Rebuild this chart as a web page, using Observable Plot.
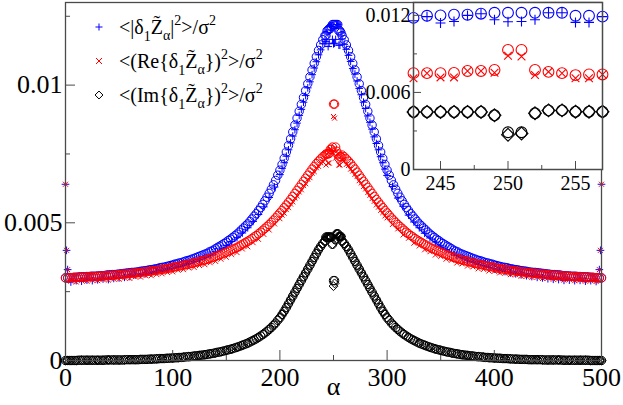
<!DOCTYPE html>
<html><head><meta charset="utf-8">
<script src="https://cdn.jsdelivr.net/npm/d3@7"></script>
<script src="https://cdn.jsdelivr.net/npm/@observablehq/plot@0.6"></script>
<style>
html,body{margin:0;padding:0;background:#fff;}
#wrap{position:relative;width:623px;height:405px;font-family:'Liberation Serif';}
#wrap svg{display:block;}
#insetBox{position:absolute;left:365px;top:0;}
</style></head><body><div id="wrap"></div>
<script>
// alpha positions of the circle series
const alphaO = [0,2,4,6,8,10,12,14,16,18,20,22,24,26,28,30,32,34,36,38,40,42,44,46,48,50,52,54,56,58,60,62,64,66,68,70,72,74,76,78,80,82,84,86,88,90,92,94,96,98,
100,102,104,106,108,110,112,114,116,118,120,122,124,126,128,130,132,134,136,138,140,142,144,146,148,150,152,154,156,158,160,162,164,166,168,170,172,174,176,178,180,182,184,186,188,190,192,194,196,198,
200,202,204,206,208,210,212,214,216,218,220,222,224,226,228,230,232,234,236,238,240,242,
243,244,245,246,247,248,249,250,251,252,253,254,255,256,257,
258,260,262,264,266,268,270,272,274,276,278,280,282,284,286,288,290,292,294,296,298,300,
302,304,306,308,310,312,314,316,318,320,322,324,326,328,330,332,334,336,338,340,342,344,346,348,350,352,354,356,358,360,362,364,366,368,370,372,374,376,378,380,382,384,386,388,390,392,394,396,398,
400,402,404,406,408,410,412,414,416,418,420,422,424,426,428,430,432,434,436,438,440,442,444,446,448,450,452,454,456,458,460,462,464,466,468,470,472,474,476,478,480,482,484,486,488,490,492,494,496,498,500];

// <|d1 Z|^2>/sigma^2, circles
const blueO = [
0.00300,0.00300,0.00301,0.00301,0.00302,0.00302,0.00303,0.00304,0.00304,0.00304,
0.00305,0.00305,0.00306,0.00306,0.00306,0.00307,0.00307,0.00308,0.00308,0.00310,
0.00311,0.00311,0.00312,0.00312,0.00313,0.00314,0.00315,0.00316,0.00317,0.00318,
0.00319,0.00320,0.00320,0.00321,0.00322,0.00324,0.00325,0.00326,0.00327,0.00329,
0.00330,0.00331,0.00333,0.00334,0.00337,0.00338,0.00339,0.00341,0.00343,0.00345,
0.00347,0.00350,0.00351,0.00354,0.00355,0.00358,0.00361,0.00363,0.00365,0.00368,
0.00371,0.00374,0.00377,0.00380,0.00383,0.00386,0.00389,0.00394,0.00397,0.00401,
0.00406,0.00411,0.00415,0.00420,0.00425,0.00430,0.00436,0.00441,0.00447,0.00453,
0.00459,0.00466,0.00474,0.00481,0.00489,0.00496,0.00505,0.00514,0.00524,0.00533,
0.00544,0.00555,0.00567,0.00580,0.00593,0.00607,0.00622,0.00638,0.00654,0.00673,
0.00691,0.00712,0.00734,0.00757,0.00781,0.00805,0.00830,0.00855,0.00880,0.00905,
0.00930,0.00955,0.00980,0.01005,0.01030,0.01055,0.01079,0.01103,0.01126,0.01146,
0.01165,0.01180,
0.01180,0.01197,0.01200,0.01205,0.01205,0.01213,0.01220,0.01220,0.01220,0.01220,0.01220,0.01220,0.01197,0.01197,0.01190,
0.01180,0.01165,
0.01146,0.01126,0.01103,0.01079,0.01055,0.01030,0.01005,0.00980,0.00955,0.00930,
0.00905,0.00880,0.00855,0.00830,0.00805,0.00781,0.00757,0.00734,0.00712,0.00691,
0.00673,0.00654,0.00638,0.00622,0.00607,0.00593,0.00580,0.00567,0.00555,0.00544,
0.00533,0.00524,0.00514,0.00505,0.00496,0.00489,0.00481,0.00474,0.00466,0.00459,
0.00453,0.00447,0.00441,0.00436,0.00430,0.00425,0.00420,0.00415,0.00411,0.00406,
0.00401,0.00397,0.00394,0.00389,0.00386,0.00383,0.00380,0.00377,0.00374,0.00371,
0.00368,0.00365,0.00363,0.00361,0.00358,0.00355,0.00354,0.00351,0.00350,0.00347,
0.00345,0.00343,0.00341,0.00339,0.00338,0.00337,0.00334,0.00333,0.00331,0.00330,
0.00329,0.00327,0.00326,0.00325,0.00324,0.00322,0.00321,0.00320,0.00320,0.00319,
0.00318,0.00317,0.00316,0.00315,0.00314,0.00313,0.00312,0.00312,0.00311,0.00311,
0.00310,0.00308,0.00308,0.00307,0.00307,0.00306,0.00306,0.00306,0.00305,0.00305,
0.00304,0.00304,0.00304,0.00303,0.00302,0.00302,0.00301,0.00301,0.00300,0.00300];

// <(Re{d1 Z})^2>/sigma^2, circles
const redO = [
0.00300,0.00300,0.00301,0.00301,0.00302,0.00302,0.00302,0.00303,0.00303,0.00303,
0.00304,0.00304,0.00305,0.00305,0.00305,0.00306,0.00306,0.00307,0.00307,0.00308,
0.00309,0.00309,0.00310,0.00310,0.00311,0.00312,0.00313,0.00314,0.00314,0.00315,
0.00316,0.00317,0.00317,0.00318,0.00319,0.00320,0.00321,0.00322,0.00323,0.00324,
0.00325,0.00326,0.00327,0.00328,0.00330,0.00331,0.00332,0.00333,0.00335,0.00336,
0.00338,0.00340,0.00341,0.00343,0.00344,0.00346,0.00348,0.00349,0.00351,0.00353,
0.00355,0.00357,0.00359,0.00361,0.00363,0.00365,0.00367,0.00370,0.00372,0.00375,
0.00378,0.00381,0.00384,0.00387,0.00390,0.00393,0.00397,0.00400,0.00404,0.00407,
0.00411,0.00415,0.00420,0.00424,0.00429,0.00433,0.00438,0.00443,0.00449,0.00454,
0.00460,0.00466,0.00473,0.00480,0.00487,0.00494,0.00502,0.00510,0.00518,0.00527,
0.00536,0.00545,0.00555,0.00565,0.00575,0.00585,0.00596,0.00607,0.00618,0.00629,
0.00640,0.00651,0.00662,0.00673,0.00684,0.00695,0.00705,0.00715,0.00724,0.00732,
0.00740,0.00746,
0.00750,0.00750,0.00750,0.00752,0.00767,0.00767,0.00775,0.00931,0.00931,0.00775,0.00760,0.00750,0.00735,0.00740,0.00740,
0.00746,0.00740,
0.00732,0.00724,0.00715,0.00705,0.00695,0.00684,0.00673,0.00662,0.00651,0.00640,
0.00629,0.00618,0.00607,0.00596,0.00585,0.00575,0.00565,0.00555,0.00545,0.00536,
0.00527,0.00518,0.00510,0.00502,0.00494,0.00487,0.00480,0.00473,0.00466,0.00460,
0.00454,0.00449,0.00443,0.00438,0.00433,0.00429,0.00424,0.00420,0.00415,0.00411,
0.00407,0.00404,0.00400,0.00397,0.00393,0.00390,0.00387,0.00384,0.00381,0.00378,
0.00375,0.00372,0.00370,0.00367,0.00365,0.00363,0.00361,0.00359,0.00357,0.00355,
0.00353,0.00351,0.00349,0.00348,0.00346,0.00344,0.00343,0.00341,0.00340,0.00338,
0.00336,0.00335,0.00333,0.00332,0.00331,0.00330,0.00328,0.00327,0.00326,0.00325,
0.00324,0.00323,0.00322,0.00321,0.00320,0.00319,0.00318,0.00317,0.00317,0.00316,
0.00315,0.00314,0.00314,0.00313,0.00312,0.00311,0.00310,0.00310,0.00309,0.00309,
0.00308,0.00307,0.00307,0.00306,0.00306,0.00305,0.00305,0.00305,0.00304,0.00304,
0.00303,0.00303,0.00303,0.00302,0.00302,0.00302,0.00301,0.00301,0.00300,0.00300];

// <(Im{d1 Z})^2>/sigma^2, circles
const blackO = [
0,0,0,0,0,0,0.00001,0.00001,0.00001,0.00001,
0.00001,0.00001,0.00001,0.00001,0.00001,0.00001,0.00001,0.00001,0.00001,0.00002,
0.00002,0.00002,0.00002,0.00002,0.00002,0.00002,0.00002,0.00002,0.00003,0.00003,
0.00003,0.00003,0.00003,0.00003,0.00003,0.00004,0.00004,0.00004,0.00004,0.00005,
0.00005,0.00005,0.00006,0.00006,0.00007,0.00007,0.00007,0.00008,0.00008,0.00009,
0.00009,0.00010,0.00010,0.00011,0.00011,0.00012,0.00013,0.00014,0.00014,0.00015,
0.00016,0.00017,0.00018,0.00019,0.00020,0.00021,0.00022,0.00024,0.00025,0.00026,
0.00028,0.00030,0.00031,0.00033,0.00035,0.00037,0.00039,0.00041,0.00043,0.00046,
0.00048,0.00051,0.00054,0.00057,0.00060,0.00063,0.00067,0.00071,0.00075,0.00079,
0.00084,0.00089,0.00094,0.00100,0.00106,0.00113,0.00120,0.00128,0.00136,0.00146,
0.00155,0.00167,0.00179,0.00192,0.00206,0.00220,0.00234,0.00248,0.00262,0.00276,
0.00290,0.00304,0.00318,0.00332,0.00346,0.00360,0.00374,0.00388,0.00402,0.00414,
0.00425,0.00434,
0.00448,0.00448,0.00448,0.00448,0.00448,0.00448,0.00422,0.00290,0.00290,0.00438,0.00460,0.00460,0.00450,0.00450,0.00450,
0.00434,0.00425,
0.00414,0.00402,0.00388,0.00374,0.00360,0.00346,0.00332,0.00318,0.00304,0.00290,
0.00276,0.00262,0.00248,0.00234,0.00220,0.00206,0.00192,0.00179,0.00167,0.00155,
0.00146,0.00136,0.00128,0.00120,0.00113,0.00106,0.00100,0.00094,0.00089,0.00084,
0.00079,0.00075,0.00071,0.00067,0.00063,0.00060,0.00057,0.00054,0.00051,0.00048,
0.00046,0.00043,0.00041,0.00039,0.00037,0.00035,0.00033,0.00031,0.00030,0.00028,
0.00026,0.00025,0.00024,0.00022,0.00021,0.00020,0.00019,0.00018,0.00017,0.00016,
0.00015,0.00014,0.00014,0.00013,0.00012,0.00011,0.00011,0.00010,0.00010,0.00009,
0.00009,0.00008,0.00008,0.00007,0.00007,0.00007,0.00006,0.00006,0.00005,0.00005,
0.00005,0.00004,0.00004,0.00004,0.00004,0.00003,0.00003,0.00003,0.00003,0.00003,
0.00003,0.00003,0.00002,0.00002,0.00002,0.00002,0.00002,0.00002,0.00002,0.00002,
0.00002,0.00001,0.00001,0.00001,0.00001,0.00001,0.00001,0.00001,0.00001,0.00001,
0.00001,0.00001,0.00001,0.00001,0,0,0,0,0,0];

// alpha positions of the plus / times / diamond series
const alphaS = [0,1,2,5,10,15,20,25,30,35,40,45,50,55,60,65,70,75,80,85,90,95,100,105,110,115,120,125,130,135,140,145,150,155,160,165,170,175,180,185,190,195,
200,202,204,206,208,210,212,214,216,218,220,222,224,226,228,230,232,234,236,238,240,242,
243,244,245,246,247,248,249,250,251,252,253,254,255,256,257,
258,260,262,264,266,268,270,272,274,276,278,280,282,284,286,288,290,292,294,296,298,300,
305,310,315,320,325,330,335,340,345,350,355,360,365,370,375,380,385,390,395,400,405,410,415,420,425,430,435,440,445,450,455,460,465,470,475,480,485,490,495,498,499,500];

const bluePlus = [0.00640,0.00400,0.00330,0.00285,0.00290,0.00288,0.00292,0.00290,0.00293,0.00296,0.00294,0.00298,0.00300,0.00302,0.00305,0.00310,0.00312,0.00315,0.00318,0.00323,0.00327,0.00333,0.00336,0.00342,0.00347,0.00352,0.00360,0.00366,0.00375,0.00383,0.00395,0.00405,0.00418,0.00432,0.00446,0.00463,0.00482,0.00505,0.00530,0.00558,0.00592,0.00630,
0.00675,0.00698,0.00718,0.00742,0.00765,0.00790,0.00815,0.00838,0.00862,0.00890,0.00912,0.00938,0.00962,0.00990,0.01012,0.01038,0.01062,0.01085,0.01110,0.01128,0.01150,0.01165,
0.01158,0.01190,0.01140,0.01152,0.01200,0.01213,0.01166,0.01150,0.01152,0.01166,0.01220,0.01220,0.01145,0.01145,0.01190,
0.01168,0.01148,0.01130,0.01108,0.01086,0.01060,0.01040,0.01015,0.00988,0.00965,0.00938,0.00915,0.00888,0.00865,0.00840,0.00812,0.00788,0.00765,0.00740,0.00718,0.00695,0.00672,
0.00632,0.00590,0.00560,0.00528,0.00503,0.00482,0.00462,0.00445,0.00430,0.00416,0.00403,0.00393,0.00382,0.00373,0.00364,0.00357,0.00349,0.00344,0.00337,0.00332,0.00327,0.00323,0.00318,0.00315,0.00311,0.00308,0.00305,0.00302,0.00300,0.00297,0.00295,0.00294,0.00291,0.00292,0.00290,0.00291,0.00288,0.00290,0.00287,0.00330,0.00400,0.00640];

const redX = [0.00640,0.00400,0.00330,0.00288,0.00285,0.00290,0.00288,0.00292,0.00290,0.00294,0.00292,0.00296,0.00295,0.00300,0.00298,0.00304,0.00303,0.00308,0.00308,0.00313,0.00315,0.00320,0.00322,0.00328,0.00330,0.00336,0.00338,0.00345,0.00348,0.00355,0.00360,0.00368,0.00375,0.00385,0.00392,0.00405,0.00413,0.00428,0.00440,0.00458,0.00474,0.00496,
0.00515,0.00528,0.00535,0.00548,0.00555,0.00568,0.00576,0.00590,0.00598,0.00612,0.00620,0.00635,0.00642,0.00658,0.00664,0.00680,0.00686,0.00700,0.00705,0.00718,0.00722,0.00733,
0.00710,0.00750,0.00717,0.00717,0.00767,0.00767,0.00753,0.00886,0.00880,0.00735,0.00760,0.00750,0.00710,0.00710,0.00740,
0.00730,0.00725,0.00712,0.00708,0.00695,0.00688,0.00676,0.00668,0.00653,0.00645,0.00632,0.00623,0.00610,0.00600,0.00588,0.00578,0.00565,0.00557,0.00545,0.00537,0.00525,0.00518,
0.00494,0.00478,0.00456,0.00444,0.00426,0.00416,0.00402,0.00395,0.00383,0.00378,0.00368,0.00364,0.00354,0.00351,0.00343,0.00340,0.00333,0.00331,0.00325,0.00324,0.00318,0.00317,0.00312,0.00311,0.00306,0.00306,0.00302,0.00302,0.00298,0.00299,0.00295,0.00296,0.00292,0.00294,0.00290,0.00292,0.00288,0.00290,0.00287,0.00330,0.00400,0.00640];

const blackD = [0,0,0,0,0,0.00001,0.00001,0.00001,0.00001,0.00001,0.00002,0.00002,0.00002,0.00002,0.00003,0.00003,0.00004,0.00004,0.00005,0.00006,0.00007,0.00008,0.00009,0.00010,0.00012,0.00014,0.00016,0.00018,0.00021,0.00024,0.00028,0.00032,0.00037,0.00042,0.00048,0.00055,0.00063,0.00073,0.00084,0.00097,0.00113,0.00132,
0.00155,0.00167,0.00179,0.00192,0.00206,0.00220,0.00234,0.00248,0.00262,0.00276,0.00290,0.00304,0.00318,0.00332,0.00346,0.00360,0.00374,0.00388,0.00402,0.00414,0.00425,0.00434,
0.00448,0.00448,0.00448,0.00448,0.00448,0.00448,0.00422,0.00270,0.00280,0.00438,0.00460,0.00460,0.00450,0.00450,0.00450,
0.00434,0.00425,0.00414,0.00402,0.00388,0.00374,0.00360,0.00346,0.00332,0.00318,0.00304,0.00290,0.00276,0.00262,0.00248,0.00234,0.00220,0.00206,0.00192,0.00179,0.00167,0.00155,
0.00132,0.00113,0.00097,0.00084,0.00073,0.00063,0.00055,0.00048,0.00042,0.00037,0.00032,0.00028,0.00024,0.00021,0.00018,0.00016,0.00014,0.00012,0.00010,0.00009,0.00008,0.00007,0.00006,0.00005,0.00004,0.00004,0.00003,0.00003,0.00002,0.00002,0.00002,0.00002,0.00001,0.00001,0.00001,0.00001,0.00001,0,0,0,0,0];

// ticks
const xMajor = [0,100,200,300,400,500];
const xMinor = [50,150,250,350,450];
const yMajor = [0,0.005,0.01];
const yMinor = [0.0025,0.0075,0.0125];
const insetXMajor = [245,250,255];
const insetXMinor = [247.5,252.5];
const insetYMajor = [0,0.006,0.012];
const insetYMinor = [0.003,0.009];

const blue = "#0000ff", red = "#ff0000", black = "#000000", frameColor = "#4a4a4a";
const font = "Liberation Serif";

const rowsO = alphaO.map((a, i) => ({a, b: blueO[i], r: redO[i], k: blackO[i]}));
const rowsS = alphaS.map((a, i) => ({a, b: bluePlus[i], r: redX[i], k: blackD[i]}));
const inWin = d => d.a >= 243 && d.a <= 257;
const fmt = d => String(d);

function series(o, s, z) {
  return [
    Plot.dot(o, {x: "a", y: "b", symbol: "circle", r: z.c, stroke: blue, strokeWidth: z.w}),
    Plot.dot(s, {x: "a", y: "b", symbol: "plus", r: z.p, stroke: blue, strokeWidth: z.w}),
    Plot.dot(o, {x: "a", y: "r", symbol: "circle", r: z.c, stroke: red, strokeWidth: z.w}),
    Plot.dot(s, {x: "a", y: "r", symbol: "times", r: z.t, stroke: red, strokeWidth: z.w}),
    Plot.dot(o, {x: "a", y: "k", symbol: "circle", r: z.c, stroke: black, strokeWidth: z.w}),
    Plot.dot(s, {x: "a", y: "k", symbol: "diamond2", r: z.d, stroke: black, strokeWidth: z.w})
  ];
}

const main = Plot.plot({
  width: 623, height: 405,
  marginLeft: 65, marginRight: 22, marginTop: 2, marginBottom: 45,
  style: {fontFamily: font, background: "white", overflow: "visible"},
  x: {domain: [0, 500]},
  y: {domain: [0, 0.013]},
  marks: [
    ...series(rowsO, rowsS, {c: 4.2, p: 2.6, t: 2.4, d: 4, w: 1}),
    Plot.frame({stroke: frameColor, strokeWidth: 1.3}),
    Plot.axisX({ticks: xMajor, tickSize: -10, tickFormat: () => "", stroke: frameColor, label: null}),
    Plot.axisX({ticks: xMinor, tickSize: -5, tickFormat: () => "", stroke: frameColor, label: null}),
    Plot.axisX({ticks: xMajor, tickSize: 0, tickPadding: 7, tickFormat: fmt, fontSize: 26, fontFamily: font, fill: "black", label: null}),
    Plot.axisY({ticks: yMajor, tickSize: -10, tickFormat: () => "", stroke: frameColor, label: null}),
    Plot.axisY({ticks: yMinor, tickSize: -5, tickFormat: () => "", stroke: frameColor, label: null}),
    Plot.axisY({ticks: yMajor, tickSize: 0, tickPadding: 3, tickFormat: fmt, fontSize: 26, fontFamily: font, fill: "black", label: null}),
    Plot.text(["α"], {frameAnchor: "bottom", dy: 34, fontSize: 26, fontFamily: font, fill: "black"})
  ]
});

const inset = Plot.plot({
  width: 258, height: 200,
  marginLeft: 48, marginRight: 21, marginTop: 2, marginBottom: 31,
  style: {fontFamily: font, background: "transparent", overflow: "visible"},
  x: {domain: [243, 257]},
  y: {domain: [0, 0.013]},
  marks: [
    Plot.frame({fill: "white", stroke: "none"}),
    ...series(rowsO.filter(inWin), rowsS.filter(inWin), {c: 5.4, p: 3.3, t: 3.6, d: 5.8, w: 1.1}),
    Plot.frame({stroke: frameColor, strokeWidth: 1.5}),
    Plot.axisX({ticks: insetXMajor, tickSize: -8, tickFormat: () => "", stroke: frameColor, label: null}),
    Plot.axisX({ticks: insetXMinor, tickSize: -4, tickFormat: () => "", stroke: frameColor, label: null}),
    Plot.axisX({ticks: insetXMajor, tickSize: 0, tickPadding: 6, tickFormat: fmt, fontSize: 20, fontFamily: font, fill: "black", label: null}),
    Plot.axisY({ticks: insetYMajor, tickSize: -8, tickFormat: () => "", stroke: frameColor, label: null}),
    Plot.axisY({ticks: insetYMinor, tickSize: -4, tickFormat: () => "", stroke: frameColor, label: null}),
    Plot.axisY({ticks: insetYMajor, tickSize: 0, tickPadding: 3, tickFormat: fmt, fontSize: 20, fontFamily: font, fill: "black", label: null})
  ]
});

const wrap = document.getElementById("wrap");
wrap.appendChild(main);
const box = document.createElement("div");
box.id = "insetBox";
box.appendChild(inset);
wrap.appendChild(box);

// legend inside the main frame
const legendSeries = [
  {type: d3.symbolPlus, size: 18, color: blue, open: "<|δ", close: "|"},
  {type: d3.symbolTimes, size: 25, color: red, open: "<(Re{δ", close: "})"},
  {type: d3.symbolDiamond2, size: 40, color: black, open: "<(Im{δ", close: "})"}
];
const svg = d3.select(main);
const lg = svg.append("g").attr("font-family", font).attr("font-size", 20).attr("fill", "black").attr("text-anchor", "start");
legendSeries.forEach((s, i) => {
  const y = 27 + i * 34;
  lg.append("path").attr("transform", `translate(99,${y})`)
    .attr("d", d3.symbol(s.type, s.size)()).attr("fill", "none").attr("stroke", s.color).attr("stroke-width", 1);
  const t = lg.append("text").attr("x", 119).attr("y", y + 7);
  t.append("tspan").text(s.open);
  t.append("tspan").attr("font-size", 14).attr("dy", 7).text("1");
  t.append("tspan").attr("dy", -7).text("Z\u0303");
  t.append("tspan").attr("font-size", 14).attr("dy", 6).text("α");
  t.append("tspan").attr("dy", -6).text(s.close);
  t.append("tspan").attr("font-size", 14).attr("dy", -9).text("2");
  t.append("tspan").attr("dy", 9).text(">/σ");
  t.append("tspan").attr("font-size", 14).attr("dy", -9).text("2");
});

const lensO = [alphaO, blueO, redO, blackO].map(a => a.length);
const lensS = [alphaS, bluePlus, redX, blackD].map(a => a.length);
if (new Set(lensO).size !== 1 || new Set(lensS).size !== 1) {
  lg.append("text").attr("x", 200).attr("y", 300).attr("fill", "magenta").text("length mismatch " + lensO.join(",") + " / " + lensS.join(","));
}
</script></body></html>
